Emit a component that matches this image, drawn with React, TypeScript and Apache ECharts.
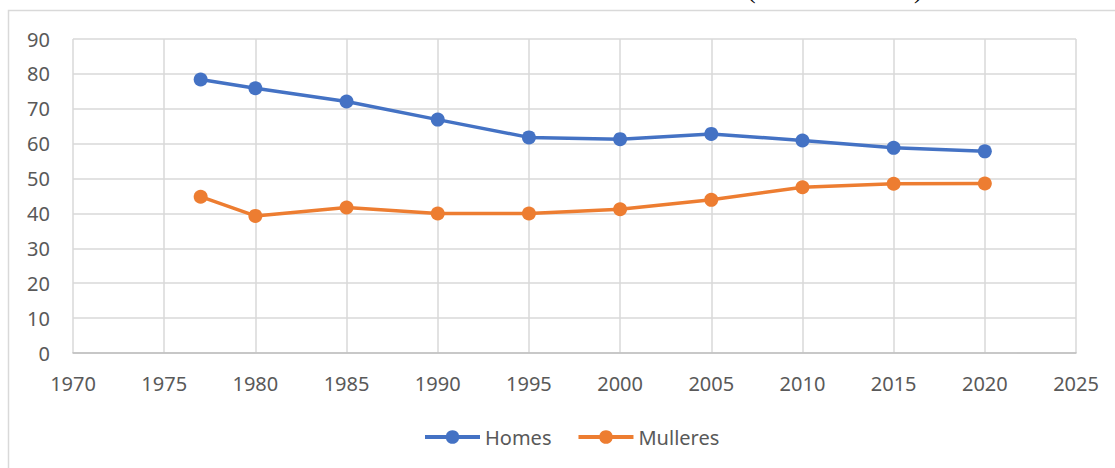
import React, { useEffect, useRef } from "react";
import * as echarts from "echarts";

const years = [1977, 1980, 1985, 1990, 1995, 2000, 2005, 2010, 2015, 2020];
const homes = [78.4, 75.9, 72.1, 66.9, 61.8, 61.3, 62.8, 60.9, 58.8, 57.8];
const mulleres = [44.8, 39.3, 41.7, 40.0, 40.0, 41.2, 43.9, 47.5, 48.5, 48.6];
const seriesNames = ["Homes", "Mulleres"];
const colors = ["#4472C4", "#ED7D31"];

const FONT = "'Noto Sans', 'Open Sans', sans-serif";

export default function App() {
  const ref = useRef<HTMLDivElement>(null);
  useEffect(() => {
    if (!ref.current) return;
    const chart = echarts.init(ref.current, undefined, { renderer: "svg" });
    const mk = (vals: number[]) => years.map((y, i) => [y, vals[i]]);
    chart.setOption({
      animation: false,
      backgroundColor: "#ffffff",
      color: colors,
      grid: { left: 73, right: 39, top: 39, bottom: 115, containLabel: false },
      legend: {
        data: seriesNames,
        top: 422,
        left: 418,
        itemWidth: 55,
        itemHeight: 17,
        itemGap: 25,
        lineStyle: { width: 4 },
        textStyle: { fontSize: 20, color: "#595959", fontFamily: FONT },
      },
      xAxis: {
        type: "value",
        min: 1970,
        max: 2025,
        interval: 5,
        axisLine: { show: true, onZero: false, lineStyle: { color: "#bfbfbf", width: 1.5 } },
        axisTick: { show: false },
        splitLine: { show: true, lineStyle: { color: "#d9d9d9", width: 1.5 } },
        axisLabel: {
          color: "#595959",
          fontSize: 20,
          fontFamily: FONT,
          margin: 20,
          showMaxLabel: true,
          showMinLabel: true,
          formatter: (v: number) => String(v),
        },
      },
      yAxis: {
        type: "value",
        min: 0,
        max: 90,
        interval: 10,
        axisLine: { show: false },
        axisTick: { show: false },
        splitLine: { show: true, lineStyle: { color: "#d9d9d9", width: 1.5 } },
        axisLabel: { color: "#595959", fontSize: 20, fontFamily: FONT, margin: 23 },
      },
      graphic: [
        {
          type: "rect",
          shape: { x: 8.5, y: 10.5, width: 2000, height: 2000 },
          style: { fill: "none", stroke: "#d9d9d9", lineWidth: 1.5 },
          silent: true,
          z: -1,
        },
        {
          type: "text",
          x: 747,
          y: 2,
          style: { text: "(", font: "26px 'Liberation Serif', serif", fill: "#000", verticalAlign: "bottom" },
        },
        {
          type: "text",
          x: 914,
          y: 2,
          style: { text: ")", font: "26px 'Liberation Serif', serif", fill: "#000", verticalAlign: "bottom" },
        },
      ],
      series: [
        {
          name: seriesNames[0],
          type: "line",
          data: mk(homes),
          symbol: "circle",
          symbolSize: 14,
          lineStyle: { width: 3.5, color: colors[0] },
          itemStyle: { color: colors[0] },
        },
        {
          name: seriesNames[1],
          type: "line",
          data: mk(mulleres),
          symbol: "circle",
          symbolSize: 14,
          lineStyle: { width: 3.5, color: colors[1] },
          itemStyle: { color: colors[1] },
        },
      ],
    });
    return () => chart.dispose();
  }, []);
  return (
    <div
      ref={ref}
      style={{ position: "absolute", left: 0, top: 0, width: 1115, height: 468 }}
    />
  );
}
